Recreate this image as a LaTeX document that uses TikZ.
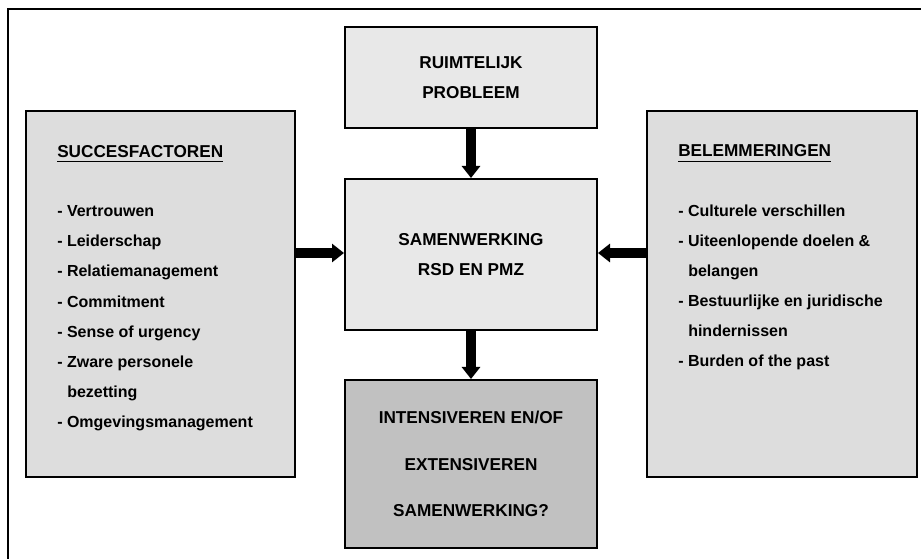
\documentclass[tikz,border=0pt]{standalone}
\usepackage{fontspec}
\setmainfont{Liberation Sans}
\usetikzlibrary{arrows.meta, calc}
\usepackage{xcolor}

\definecolor{boxlight}{gray}{0.91}
\definecolor{boxside}{gray}{0.865}
\definecolor{boxdark}{gray}{0.755}

\newcommand{\undertitle}[1]{\setbox0\hbox{#1}\rlap{\rule[-3.6pt]{\wd0}{0.8pt}}\box0}

\begin{document}
\begin{tikzpicture}[x=0.75pt, y=-0.75pt,
  box/.style={draw, line width=1.5pt, inner sep=0pt, align=center,
    font=\fontsize{12.9}{22.5}\selectfont\bfseries},
  listtext/.style={inner sep=0pt, align=left,
    font=\fontsize{12}{22.5}\selectfont\bfseries},
  bigarrow/.style={line width=7.3pt, -{Triangle[length=9pt, width=13.5pt]}}]
  \useasboundingbox (0,0) rectangle (921,559);
  \draw[line width=1.5pt] (921,9) -- (8,9) -- (8,559);

  % middle column
  \node[box, fill=boxlight, minimum width=189pt, minimum height=75.75pt] (probleem) at (471,77.5)
    {RUIMTELIJK\\PROBLEEM};
  \node[box, fill=boxlight, minimum width=189pt, minimum height=113.25pt] (samen) at (471,254.5)
    {SAMENWERKING\\RSD EN PMZ};
  \node[box, fill=boxdark, minimum width=189pt, minimum height=126pt,
    font=\fontsize{12.9}{35}\selectfont\bfseries] (uitkomst) at (471,464)
    {INTENSIVEREN EN/OF\\EXTENSIVEREN\\SAMENWERKING?};

  % side columns (text anchored at its last baseline)
  \node[box, fill=boxside, minimum width=201.75pt, minimum height=274.5pt] (succes) at (160.5,294) {};
  \node[box, fill=boxside, minimum width=202.5pt, minimum height=274.5pt] (belem) at (782,294) {};

  \node[listtext, anchor=base west] (succestxt) at (57,427)
    {{\fontsize{12.9}{22.5}\selectfont\undertitle{SUCCESFACTOREN}}\\[22.5pt]
     - Vertrouwen\\- Leiderschap\\- Relatiemanagement\\- Commitment\\
     - Sense of urgency\\- Zware personele\\\hspace*{7.5pt}bezetting\\
     - Omgevingsmanagement};
  \node[listtext, anchor=base west] (belemtxt) at (678,367)
    {{\fontsize{12.9}{22.5}\selectfont\undertitle{BELEMMERINGEN}}\\[22.5pt]
     - Culturele verschillen\\- Uiteenlopende doelen \&\\\hspace*{7.5pt}belangen\\
     - Bestuurlijke en juridische\\\hspace*{7.5pt}hindernissen\\
     - Burden of the past};

  \draw[bigarrow] (probleem) -- (samen);
  \draw[bigarrow] (samen) -- (uitkomst);
  \draw[bigarrow] (succes.east |- 0,253) -- (samen.west |- 0,253);
  \draw[bigarrow] (belem.west |- 0,253) -- (samen.east |- 0,253);
\end{tikzpicture}
\end{document}
